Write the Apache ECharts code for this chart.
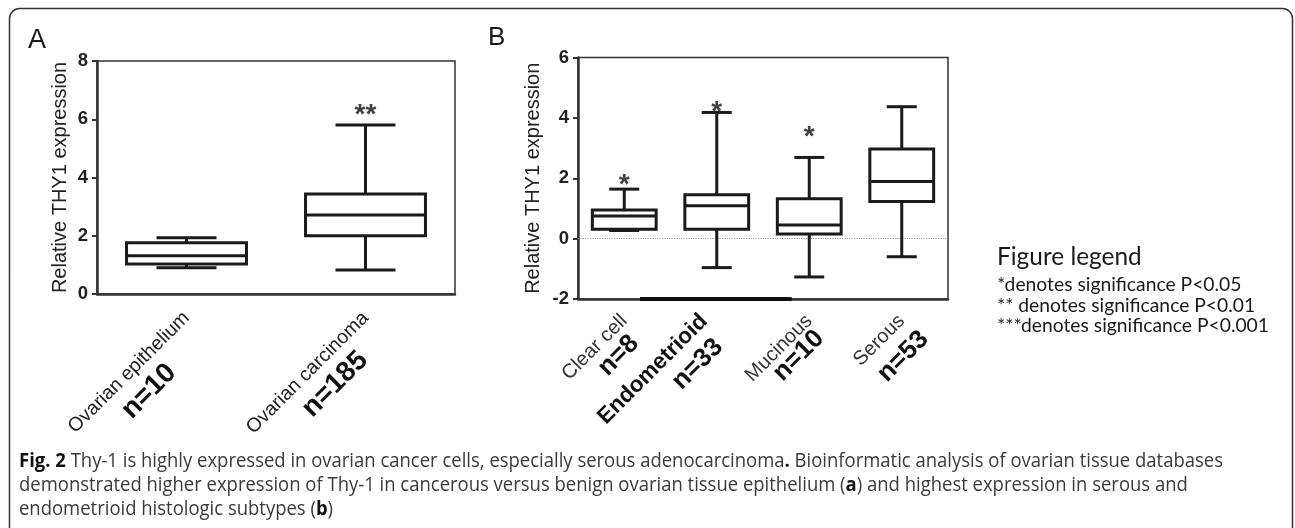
<!DOCTYPE html>
<html><head><meta charset="utf-8">
<script src="https://cdn.jsdelivr.net/npm/echarts@6/dist/echarts.min.js"></script>
<style>html,body{margin:0;padding:0;background:#fff}#c{width:1295px;height:528px}</style>
</head><body><div id="c"></div>
<script>
// ---------- Panel A data ----------
const catsA = ['Ovarian epithelium', 'Ovarian carcinoma'];
const countsA = [10, 185];
const minA = [0.90, 0.82];
const q1A = [1.03, 2.00];
const medA = [1.31, 2.71];
const q3A = [1.76, 3.43];
const maxA = [1.93, 5.80];
const starsA = ['', '**'];
const starYA = [null, 6.35];
const ticksA = [0, 2, 4, 6, 8];

// ---------- Panel B data ----------
const catsB = ['Clear cell', 'Endometrioid', 'Mucinous', 'Serous'];
const countsB = [8, 33, 10, 53];
const minB = [0.27, -0.96, -1.27, -0.60];
const q1B = [0.31, 0.31, 0.15, 1.23];
const medB = [0.75, 1.09, 0.45, 1.89];
const q3B = [0.95, 1.45, 1.32, 2.97];
const maxB = [1.64, 4.18, 2.69, 4.37];
const starsB = ['*', '*', '*', ''];
const starYB = [1.95, 4.37, 3.57, null];
const ticksB = [-2, 0, 2, 4, 6];
const baselineBar = [[0.17, -2], [1.81, -2]];

// ---------- Text ----------
const yTitle = 'Relative THY1 expression';
const legendTitle = 'Figure legend';
const legendLines = ['*denotes significance P<0.05', '** denotes significance P<0.01', '***denotes significance P<0.001'];
const captionLines = [
  '{b|Fig. 2} Thy-1 is highly expressed in ovarian cancer cells, especially serous adenocarcinoma{b|.} Bioinformatic analysis of ovarian tissue databases',
  'demonstrated higher expression of Thy-1 in cancerous versus benign ovarian tissue epithelium ({b|a}) and highest expression in serous and',
  'endometrioid histologic subtypes ({b|b})'
];

const FONT = '"Liberation Sans", Arial, sans-serif';
const LFONT = 'Lato, "Open Sans", sans-serif';
const INK = '#1a1a1a';

function boxData(mins, q1s, meds, q3s, maxs) {
  return mins.map((m, i) => [i, m, q1s[i], meds[i], q3s[i], maxs[i]]);
}
function makeBoxRender(boxRatio, capRatio) {
  return function (params, api) {
    const i = api.value(0);
    const band = api.size([1, 0])[0];
    const bw = band * boxRatio, cw = bw * capRatio;
    const pMin = api.coord([i, api.value(1)]);
    const pQ1 = api.coord([i, api.value(2)]);
    const pMed = api.coord([i, api.value(3)]);
    const pQ3 = api.coord([i, api.value(4)]);
    const pMax = api.coord([i, api.value(5)]);
    const x = pMed[0];
    const ls = { stroke: INK, lineWidth: 3, fill: null };
    return {
      type: 'group', children: [
        { type: 'line', shape: { x1: x, y1: pQ3[1], x2: x, y2: pMax[1] }, style: ls },
        { type: 'line', shape: { x1: x, y1: pQ1[1], x2: x, y2: pMin[1] }, style: ls },
        { type: 'line', shape: { x1: x - cw / 2, y1: pMax[1], x2: x + cw / 2, y2: pMax[1] }, style: ls },
        { type: 'line', shape: { x1: x - cw / 2, y1: pMin[1], x2: x + cw / 2, y2: pMin[1] }, style: ls },
        { type: 'rect', shape: { x: x - bw / 2, y: pQ3[1], width: bw, height: pQ1[1] - pQ3[1] }, style: { fill: '#fff', stroke: INK, lineWidth: 3 } },
        { type: 'line', shape: { x1: x - bw / 2, y1: pMed[1], x2: x + bw / 2, y2: pMed[1] }, style: ls }
      ]
    };
  };
}
function starData(stars, ys) {
  return stars.map((s, i) => s ? { value: [i, ys[i]], name: s } : null).filter(Boolean);
}
function yAxisCfg(grid, ticks, gap) {
  return {
    type: 'value', gridIndex: grid, min: ticks[0], max: ticks[ticks.length - 1], interval: ticks[1] - ticks[0],
    name: yTitle, nameLocation: 'middle', nameGap: gap,
    nameTextStyle: { fontSize: 20, color: '#222', fontFamily: FONT },
    axisLine: { show: true, onZero: false, lineStyle: { color: '#333', width: 2.5 } },
    axisTick: { show: true, length: 5, lineStyle: { color: '#333', width: 2 } },
    axisLabel: { fontSize: 18.5, fontWeight: 'bold', color: '#222', margin: 9, fontFamily: FONT },
    splitLine: { show: false }
  };
}
function countRich(prefix, pads, size) {
  const r = {};
  pads.forEach((p, i) => { r[prefix + i] = { fontSize: size, fontWeight: 'bold', color: '#111', fontFamily: FONT, padding: p }; });
  return r;
}

const chart = echarts.init(document.getElementById('c'), null, { renderer: 'canvas' });

// caption horizontal condensing factor
const cv = document.createElement('canvas').getContext('2d');
const capSize = 19.5, capFont = '"Open Sans", sans-serif';
cv.font = capSize + 'px ' + capFont;
const wReg = cv.measureText(' Thy-1 is highly expressed in ovarian cancer cells, especially serous adenocarcinoma Bioinformatic analysis of ovarian tissue databases').width;
cv.font = 'bold ' + capSize + 'px ' + capFont;
const wBold = cv.measureText('Fig. 2.').width;
const capScale = 1204 / (wReg + wBold);

const graphics = [
  { type: 'rect', shape: { x: 9.5, y: 8.5, width: 1283, height: 540, r: 10 }, style: { fill: null, stroke: '#333', lineWidth: 1.5 }, z: 0 },
  { type: 'text', x: 28, y: 41, style: { text: 'A', fontSize: 27, fontFamily: FONT, fill: INK, verticalAlign: 'middle' } },
  { type: 'text', x: 488, y: 38, style: { text: 'B', fontSize: 26, fontFamily: FONT, fill: INK, verticalAlign: 'middle' } },
  { type: 'text', x: 997, y: 257, style: { text: legendTitle, fontSize: 24.4, fontFamily: LFONT, fill: INK, verticalAlign: 'middle' } }
];
legendLines.forEach((t, i) => {
  graphics.push({ type: 'text', x: 997, y: 285 + i * 20.5, style: { text: t, fontSize: 19.3, fontFamily: LFONT, fill: INK, verticalAlign: 'middle' } });
});
captionLines.forEach((t, i) => {
  graphics.push({
    type: 'text', x: 19, y: 461 + i * 24, scaleX: capScale,
    style: { text: t, fontSize: capSize, fontFamily: capFont, fill: '#3a3a3a', verticalAlign: 'middle',
      rich: { b: { fontWeight: 'bold', fontSize: capSize, fontFamily: capFont, fill: '#111' } } }
  });
});

const starLabel = { show: true, position: 'inside', formatter: p => p.name, fontSize: 28, fontWeight: 'bold', color: '#111', offset: [0, 6], fontFamily: FONT };

const option = {
  animation: false,
  backgroundColor: '#fff',
  textStyle: { fontFamily: FONT },
  grid: [
    { left: 97, top: 61, width: 358, height: 233, show: true, borderColor: '#333', borderWidth: 1.5, outerBoundsMode: 'none', containLabel: false },
    { left: 578, top: 57.5, width: 370, height: 241.5, show: true, borderColor: '#333', borderWidth: 1.5, outerBoundsMode: 'none', containLabel: false }
  ],
  xAxis: [
    { type: 'category', gridIndex: 0, data: catsA, position: 'bottom',
      axisLine: { onZero: false, lineStyle: { color: '#333', width: 2.5 } },
      axisTick: { alignWithLabel: true, length: 6, lineStyle: { color: '#333', width: 2 } },
      axisLabel: { interval: 0, rotate: 45, margin: 21, fontSize: 19.5, color: '#222', fontFamily: FONT } },
    { type: 'category', gridIndex: 0, data: catsA, position: 'bottom', offset: 0,
      axisLine: { show: false, onZero: false }, axisTick: { show: false },
      axisLabel: { interval: 0, rotate: 45, margin: 60, align: 'center',
        formatter: (v, i) => '{c' + i + '|n=' + countsA[i] + '}',
        rich: countRich('c', [[0, 106, 0, 0], [0, 86, 0, 0]], 28) } },
    { type: 'category', gridIndex: 1, data: catsB, position: 'bottom',
      axisLine: { onZero: false, lineStyle: { color: '#333', width: 2.5 } },
      axisTick: { alignWithLabel: true, length: 6, lineStyle: { color: '#333', width: 2 } },
      axisLabel: { interval: 0, rotate: 45, margin: 19,
        formatter: (v, i) => '{s' + i + '|' + v + '}',
        rich: {
          s0: { fontSize: 20, color: '#333', fontFamily: FONT },
          s1: { fontSize: 22.5, fontWeight: 'bold', color: '#111', fontFamily: FONT, padding: [0, 9, 18, 0] },
          s2: { fontSize: 20, color: '#333', fontFamily: FONT },
          s3: { fontSize: 20, color: '#333', fontFamily: FONT }
        } } },
    { type: 'category', gridIndex: 1, data: catsB, position: 'bottom', offset: 0,
      axisLine: { show: false, onZero: false }, axisTick: { show: false },
      axisLabel: { interval: 0, rotate: 45, margin: 51, align: 'center',
        formatter: (v, i) => '{c' + i + '|n=' + countsB[i] + '}',
        rich: countRich('c', [[0, 16, 0, 0], [0, 47, 7, 0], [0, 23, 7, 0], [11, 7, 0, 0]], 26) } },
    { type: 'value', gridIndex: 1, min: -0.5, max: 3.5, show: false }
  ],
  yAxis: [ yAxisCfg(0, ticksA, 27), yAxisCfg(1, ticksB, 35) ],
  series: [
    { type: 'custom', name: 'A', xAxisIndex: 0, yAxisIndex: 0, renderItem: makeBoxRender(0.67, 0.5),
      data: boxData(minA, q1A, medA, q3A, maxA), z: 3 },
    { type: 'custom', name: 'B', xAxisIndex: 2, yAxisIndex: 1, renderItem: makeBoxRender(0.69, 0.47),
      data: boxData(minB, q1B, medB, q3B, maxB), z: 3 },
    { type: 'scatter', xAxisIndex: 0, yAxisIndex: 0, symbolSize: 1, itemStyle: { color: 'rgba(0,0,0,0)' },
      data: starData(starsA, starYA), z: 5, label: starLabel },
    { type: 'scatter', xAxisIndex: 2, yAxisIndex: 1, symbolSize: 1, itemStyle: { color: 'rgba(0,0,0,0)' },
      data: starData(starsB, starYB), z: 5, label: starLabel },
    { type: 'line', xAxisIndex: 4, yAxisIndex: 1, data: baselineBar, symbol: 'none', clip: false, z: 4,
      lineStyle: { color: '#111', width: 4 },
      markLine: { silent: true, symbol: 'none', label: { show: false }, z: 1,
        lineStyle: { type: 'dotted', color: '#999', width: 1.2 }, data: [{ yAxis: 0 }] } }
  ],
  graphic: graphics
};
chart.setOption(option);
</script></body></html>
